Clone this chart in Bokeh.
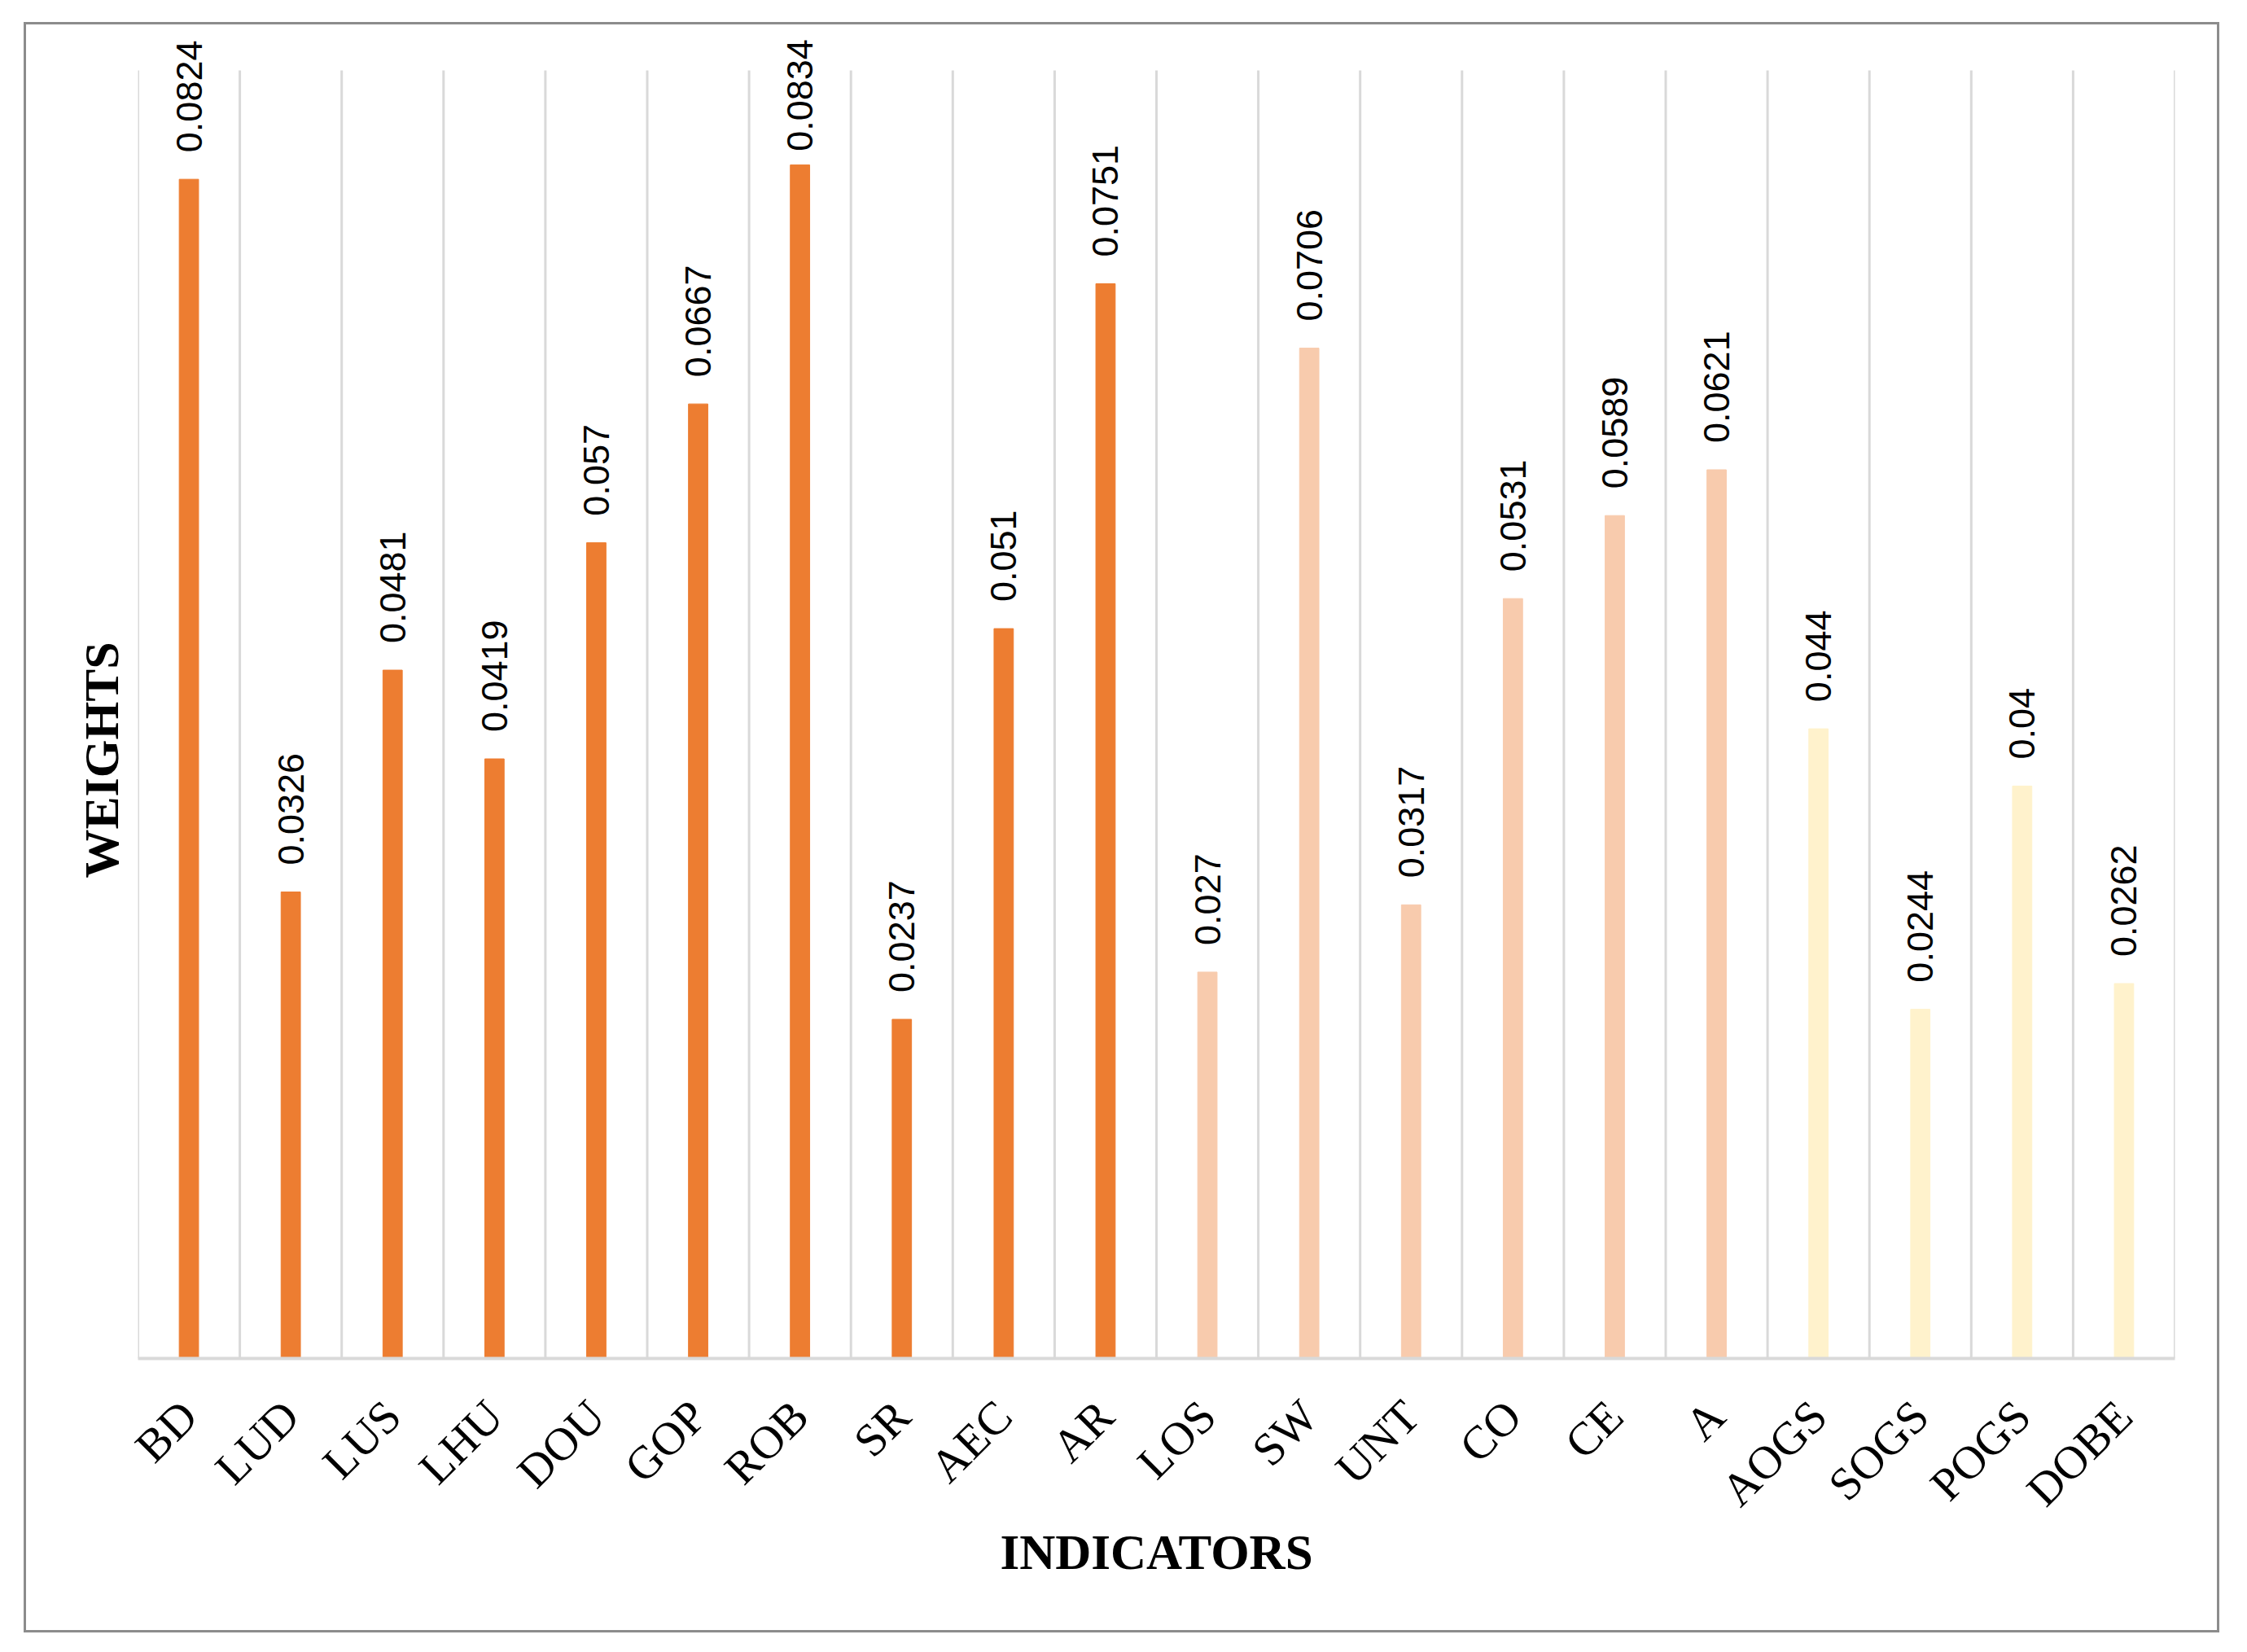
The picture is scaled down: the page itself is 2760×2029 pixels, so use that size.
from math import pi
from bokeh.plotting import figure
from bokeh.models import ColumnDataSource, LabelSet, FixedTicker, Range1d, Title
from bokeh.core.properties import value
from bokeh.embed import file_html
from bokeh.resources import INLINE

# ---- data ----
categories = ["BD", "LUD", "LUS", "LHU", "DOU", "GOP", "ROB", "SR", "AEC", "AR",
              "LOS", "SW", "UNT", "CO", "CE", "A", "AOGS", "SOGS", "POGS", "DOBE"]
weights = [0.0824, 0.0326, 0.0481, 0.0419, 0.057, 0.0667, 0.0834, 0.0237, 0.051, 0.0751,
           0.027, 0.0706, 0.0317, 0.0531, 0.0589, 0.0621, 0.044, 0.0244, 0.04, 0.0262]
groups = ["g1"] * 10 + ["g2"] * 6 + ["g3"] * 4
y_max = 0.09          # top of the value axis (gridlines end here)
y_ticks = []          # value axis is hidden in the original

# ---- styles / layout ----
group_colors = {"g1": "#ED7D31", "g2": "#F8CBAD", "g3": "#FFF2CC"}
grid_color = "#D9D9D9"
plot_h = 1579         # pixel height of 0..y_max
top_pad = 48          # extra pixels above y_max (room for data labels)
label_gap = 33        # gap between bar end and its data label
label_len = 136       # approx. length of a 6-char data label
label_ceiling = 11    # labels are kept at least this far below the frame top

n = len(categories)
xpos = [i + 0.5 for i in range(n)]
# like the original, labels that would run past the top are pushed down
offsets = []
for w in weights:
    room = (plot_h + top_pad) - w / y_max * plot_h - label_ceiling - label_len
    offsets.append(max(8, min(label_gap, room)))

src = ColumnDataSource(dict(
    x=xpos,
    top=weights,
    color=[group_colors[g] for g in groups],
    label=[str(w) for w in weights],
    yoff=offsets,
))
bounds = list(range(n + 1))

p = figure(width=2697, height=1978,
           x_range=Range1d(0, n), y_range=Range1d(0, y_max * (plot_h + top_pad) / plot_h),
           output_backend="svg", toolbar_location=None,
           min_border_left=137, min_border_right=58, min_border_top=8, min_border_bottom=340,
           margin=(27, 0, 0, 29))
p.styles = {"border": "3px solid #8C8C8C"}
p.outline_line_color = None
p.background_fill_color = "white"
p.border_fill_color = "white"
p.xgrid.visible = False
p.ygrid.visible = False

# vertical gridlines at category boundaries, up to y_max
p.segment(x0=bounds, y0=[0] * len(bounds), x1=bounds, y1=[y_max] * len(bounds),
          line_color=grid_color, line_width=3)

p.vbar(x="x", top="top", bottom=0, width=0.19, color="color", source=src)

labels = LabelSet(x="x", y="top", text="label", source=src, angle=pi / 2,
                  text_align="left", text_baseline="middle", y_offset="yoff",
                  text_font=value("Liberation Sans"), text_font_size="45px",
                  text_color="black")
p.add_layout(labels)

# x axis
p.xaxis.ticker = FixedTicker(ticks=xpos)
p.xaxis.major_label_overrides = {x: c for x, c in zip(xpos, categories)}
p.xaxis.major_label_orientation = pi / 4
p.xaxis.major_label_text_font = "Liberation Serif"
p.xaxis.major_label_text_font_size = "57px"
p.xaxis.major_label_text_color = "black"
p.xaxis.major_label_standoff = 55
p.xaxis.major_tick_line_color = None
p.xaxis.minor_tick_line_color = None
p.xaxis.axis_line_color = grid_color
p.xaxis.axis_line_width = 4
p.xaxis.axis_label = "INDICATORS"
p.xaxis.axis_label_text_font = "Liberation Serif"
p.xaxis.axis_label_text_font_style = "bold"
p.xaxis.axis_label_text_font_size = "61px"
p.xaxis.axis_label_text_color = "black"
p.xaxis.axis_label_standoff = -14

# y axis hidden (no ticks, no line); its title is set as a left title
p.yaxis.ticker = FixedTicker(ticks=y_ticks)
p.yaxis.axis_line_color = None
p.yaxis.major_tick_line_color = None
p.yaxis.minor_tick_line_color = None
p.add_layout(Title(text="WEIGHTS", align="left", offset=590, standoff=24,
                   text_font="Liberation Serif", text_font_style="bold",
                   text_font_size="60px", text_color="black"), "left")

open("out.html", "w").write(file_html(p, INLINE))
